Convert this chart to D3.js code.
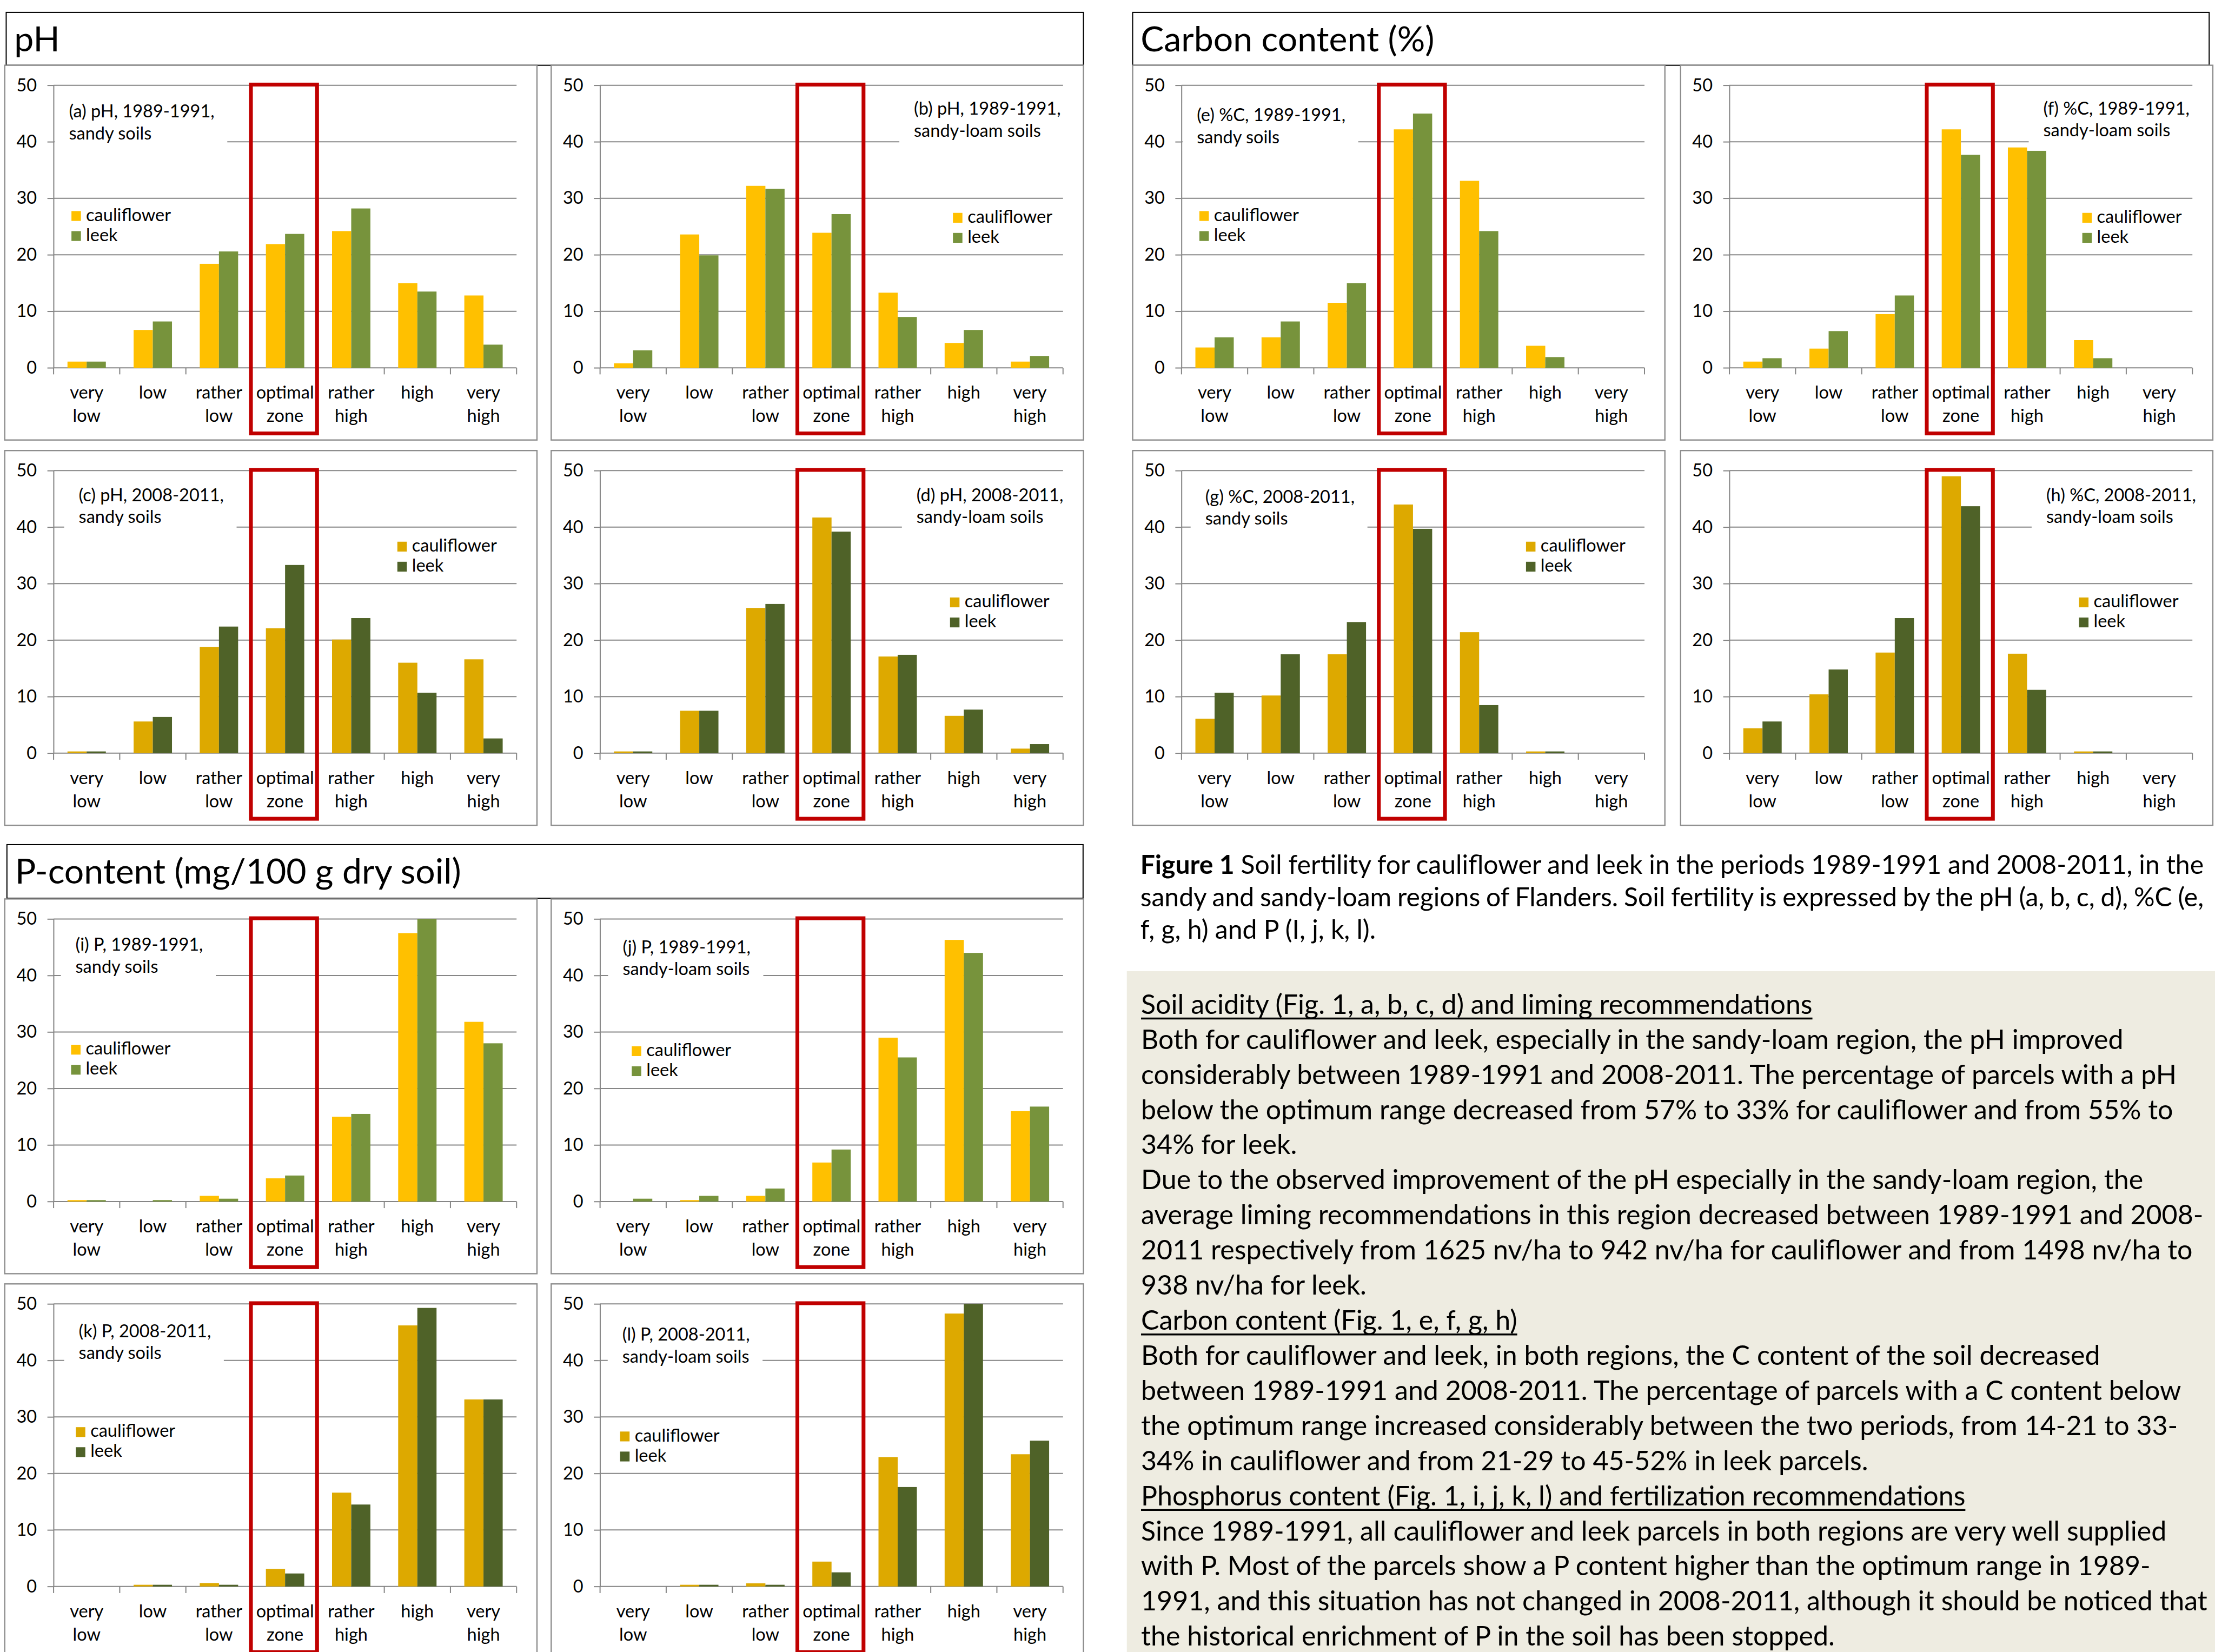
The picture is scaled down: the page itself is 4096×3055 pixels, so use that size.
<!DOCTYPE html>
<html><head><meta charset="utf-8">
<script src="https://cdn.jsdelivr.net/npm/d3@7"></script>
<style>html,body{margin:0;padding:0;background:#fff;overflow:hidden} svg{display:block}</style>
</head><body>
<script>
// ---------------- DATA ----------------
const categories = ["very low","low","rather low","optimal zone","rather high","high","very high"];
const categoryLines = [["very","low"],["low"],["rather","low"],["optimal","zone"],["rather","high"],["high"],["very","high"]];
const yTicks = [0,10,20,30,40,50];
const seriesNames = ["cauliflower","leek"];

// pH
const a_cauliflower = [1.1, 6.7, 18.4, 21.9, 24.2, 15.0, 12.8];
const a_leek        = [1.1, 8.2, 20.6, 23.7, 28.2, 13.5, 4.1];
const b_cauliflower = [0.8, 23.6, 32.2, 23.9, 13.3, 4.4, 1.1];
const b_leek        = [3.1, 19.9, 31.7, 27.2, 9.0, 6.7, 2.1];
const c_cauliflower = [0.3, 5.6, 18.8, 22.1, 20.1, 16.0, 16.6];
const c_leek        = [0.3, 6.4, 22.4, 33.3, 23.9, 10.7, 2.6];
const d_cauliflower = [0.3, 7.5, 25.7, 41.7, 17.1, 6.6, 0.8];
const d_leek        = [0.3, 7.5, 26.4, 39.2, 17.4, 7.7, 1.6];
// %C
const e_cauliflower = [3.6, 5.4, 11.5, 42.2, 33.1, 3.9, 0];
const e_leek        = [5.4, 8.2, 15.0, 45.0, 24.2, 1.9, 0];
const f_cauliflower = [1.1, 3.4, 9.5, 42.2, 39.0, 4.9, 0];
const f_leek        = [1.7, 6.5, 12.8, 37.7, 38.4, 1.7, 0];
const g_cauliflower = [6.1, 10.2, 17.5, 44.0, 21.4, 0.3, 0];
const g_leek        = [10.7, 17.5, 23.2, 39.7, 8.5, 0.3, 0];
const h_cauliflower = [4.4, 10.4, 17.8, 49.0, 17.6, 0.3, 0];
const h_leek        = [5.6, 14.8, 23.9, 43.7, 11.2, 0.3, 0];
// P
const i_cauliflower = [0.25, 0, 1.0, 4.1, 15.0, 47.5, 31.8];
const i_leek        = [0.25, 0.25, 0.5, 4.6, 15.5, 50, 28.0];
const j_cauliflower = [0, 0.25, 1.0, 6.9, 29.0, 46.3, 16.0];
const j_leek        = [0.5, 1.0, 2.3, 9.2, 25.5, 44.0, 16.8];
const k_cauliflower = [0, 0.3, 0.6, 3.1, 16.6, 46.2, 33.1];
const k_leek        = [0, 0.3, 0.3, 2.3, 14.5, 49.3, 33.1];
const l_cauliflower = [0, 0.3, 0.55, 4.4, 22.9, 48.3, 23.4];
const l_leek        = [0, 0.3, 0.3, 2.5, 17.6, 50, 25.8];

const titleA = ["(a) pH, 1989-1991,", "sandy soils"];
const titleB = ["(b) pH, 1989-1991,", "sandy-loam soils"];
const titleC = ["(c) pH, 2008-2011,", "sandy soils"];
const titleD = ["(d) pH, 2008-2011,", "sandy-loam soils"];
const titleE = ["(e) %C, 1989-1991,", "sandy soils"];
const titleF = ["(f) %C, 1989-1991,", "sandy-loam soils"];
const titleG = ["(g) %C, 2008-2011,", "sandy soils"];
const titleH = ["(h) %C, 2008-2011,", "sandy-loam soils"];
const titleI = ["(i) P, 1989-1991,", "sandy soils"];
const titleJ = ["(j) P, 1989-1991,", "sandy-loam soils"];
const titleK = ["(k) P, 2008-2011,", "sandy soils"];
const titleL = ["(l) P, 2008-2011,", "sandy-loam soils"];

const headerPH = "pH";
const headerC = "Carbon content (%)";
const headerP = "P-content (mg/100 g dry soil)";

const captionBold = "Figure 1";
const captionLines = [
  " Soil fertility for cauliflower and leek in the periods 1989-1991 and 2008-2011, in the",
  "sandy and sandy-loam regions of Flanders. Soil fertility is expressed by the pH (a, b, c, d), %C (e,",
  "f, g, h) and P (I, j, k, l)."
];
const bodyLines = [
  ["Soil acidity (Fig. 1, a, b, c, d) and liming recommendations", true],
  ["Both for cauliflower and leek, especially in the sandy-loam region, the pH improved", false],
  ["considerably between 1989-1991 and 2008-2011. The percentage of parcels with a pH", false],
  ["below the optimum range decreased from 57% to 33% for cauliflower and from 55% to", false],
  ["34% for leek.", false],
  ["Due to the observed improvement of the pH especially in the sandy-loam region, the", false],
  ["average liming recommendations in this region decreased between 1989-1991 and 2008-", false],
  ["2011 respectively from 1625 nv/ha to 942 nv/ha for cauliflower and from 1498 nv/ha to", false],
  ["938 nv/ha for leek.", false],
  ["Carbon content (Fig. 1, e, f, g, h)", true],
  ["Both for cauliflower and leek, in both regions, the C content of the soil decreased", false],
  ["between 1989-1991 and 2008-2011. The percentage of parcels with a C content below", false],
  ["the optimum range increased considerably between the two periods, from 14-21 to 33-", false],
  ["34% in cauliflower and from 21-29 to 45-52% in leek parcels.", false],
  ["Phosphorus content (Fig. 1, i, j, k, l) and fertilization recommendations", true],
  ["Since 1989-1991, all cauliflower and leek parcels in both regions are very well supplied", false],
  ["with P. Most of the parcels show a P content higher than the optimum range in 1989-", false],
  ["1991, and this situation has not changed in 2008-2011, although it should be noticed that", false],
  ["the historical enrichment of P in the soil has been stopped.", false]
];

// ---------------- STYLE / LAYOUT ----------------
const W = 4096, H = 3055, REF_W = 6076;
const k = W / REF_W;
const FONT = "Lato, 'Open Sans', 'Liberation Sans', sans-serif";
const GRID = "#868686";
const colorsOld = {cauliflower: "#FFC000", leek: "#77933C"};
const colorsNew = {cauliflower: "#DDA900", leek: "#4F6228"};

const svg = d3.select("body").append("svg").attr("width", W).attr("height", H);
svg.append("rect").attr("width", W).attr("height", H).attr("fill", "#fff");
const root = svg.append("g").attr("transform", `scale(${k})`);

function measure(text, size, weight) {
  const t = root.append("text").attr("font-family", FONT).attr("font-size", size)
    .attr("font-weight", weight || "normal").text(text);
  const w = t.node().getComputedTextLength();
  t.remove();
  return w;
}
function fit(text, target, weight) { return 100 * target / measure(text, 100, weight); }

const chartFs = Math.min(50, fit("cauliflower", 233));
const headerFs = fit(headerP, 1224);
const bodyFs = fit(bodyLines[1][0], 2695);
const captionFs = fit(captionLines[2], 646);

// ---------------- HEADERS ----------------
const headers = [
  {label: headerPH, x: 17, y: 34, w: 2955, h: 145},
  {label: headerC, x: 3107, y: 34, w: 2953, h: 145},
  {label: headerP, x: 19, y: 2317, w: 2952, h: 147}
];
headers.forEach(hd => {
  root.append("rect").attr("x", hd.x).attr("y", hd.y).attr("width", hd.w).attr("height", hd.h)
    .attr("fill", "#fff").attr("stroke", "#000").attr("stroke-width", 3);
  root.append("text").attr("x", hd.x + 22).attr("y", hd.y + 107)
    .attr("font-family", FONT).attr("font-size", headerFs).attr("fill", "#000").text(hd.label);
});

// ---------------- PANELS ----------------
const colX = [13, 1512, 3107, 4610];
const rowY = [179, 1236, 2466, 3522];
const panels = [
  {title: titleA, cauliflower: a_cauliflower, leek: a_leek, colors: colorsOld, bx: colX[0], by: rowY[0], tdx: 42, tdy: 88, lx: 49, ly: 345},
  {title: titleB, cauliflower: b_cauliflower, leek: b_leek, colors: colorsOld, bx: colX[1], by: rowY[0], tdx: 861, tdy: 81, lx: 968, ly: 350},
  {title: titleC, cauliflower: c_cauliflower, leek: c_leek, colors: colorsNew, bx: colX[0], by: rowY[1], tdx: 69, tdy: 84, lx: 943, ly: 195},
  {title: titleD, cauliflower: d_cauliflower, leek: d_leek, colors: colorsNew, bx: colX[1], by: rowY[1], tdx: 868, tdy: 84, lx: 960, ly: 348},
  {title: titleE, cauliflower: e_cauliflower, leek: e_leek, colors: colorsOld, bx: colX[2], by: rowY[0], tdx: 42, tdy: 99, lx: 49, ly: 345},
  {title: titleF, cauliflower: f_cauliflower, leek: f_leek, colors: colorsOld, bx: colX[3], by: rowY[0], tdx: 861, tdy: 80, lx: 968, ly: 350},
  {title: titleG, cauliflower: g_cauliflower, leek: g_leek, colors: colorsNew, bx: colX[2], by: rowY[1], tdx: 65, tdy: 88, lx: 945, ly: 195},
  {title: titleH, cauliflower: h_cauliflower, leek: h_leek, colors: colorsNew, bx: colX[3], by: rowY[1], tdx: 869, tdy: 84, lx: 959, ly: 348},
  {title: titleI, cauliflower: i_cauliflower, leek: i_leek, colors: colorsOld, bx: colX[0], by: rowY[2], tdx: 60, tdy: 87, lx: 48, ly: 345},
  {title: titleJ, cauliflower: j_cauliflower, leek: j_leek, colors: colorsOld, bx: colX[1], by: rowY[2], tdx: 62, tdy: 94, lx: 87, ly: 349},
  {title: titleK, cauliflower: k_cauliflower, leek: k_leek, colors: colorsNew, bx: colX[0], by: rowY[3], tdx: 69, tdy: 91, lx: 61, ly: 338},
  {title: titleL, cauliflower: l_cauliflower, leek: l_leek, colors: colorsNew, bx: colX[1], by: rowY[3], tdx: 61, tdy: 101, lx: 55, ly: 350}
];

function drawPanel(p) {
  const g = root.append("g");
  const px = p.bx + 134, pr = p.bx + 1404, pt = p.by + 55, pb = p.by + 830;
  g.append("rect").attr("x", p.bx).attr("y", p.by).attr("width", 1460).attr("height", 1028)
    .attr("fill", "#fff").attr("stroke", "#8C8C8C").attr("stroke-width", 3.5);

  const x = d3.scaleBand().domain(categories).range([px, pr]).padding(0);
  const xs = d3.scaleBand().domain(seriesNames).range([0, x.bandwidth()]).paddingInner(0).paddingOuter(0.724);
  const y = d3.scaleLinear().domain([0, 50]).range([pb, pt]);

  // gridlines
  g.append("g").selectAll("line").data(yTicks).join("line")
    .attr("x1", px).attr("x2", pr).attr("y1", d => y(d)).attr("y2", d => y(d))
    .attr("stroke", GRID).attr("stroke-width", 3);

  // y axis
  const ya = g.append("g").attr("transform", `translate(${px},0)`)
    .call(d3.axisLeft(y).tickValues(yTicks).tickSize(17).tickSizeOuter(0).tickPadding(29));
  ya.select(".domain").attr("stroke", GRID).attr("stroke-width", 3);
  ya.selectAll(".tick line").attr("stroke", GRID).attr("stroke-width", 3);
  ya.selectAll(".tick text").attr("font-family", FONT).attr("font-size", chartFs).attr("fill", "#000");

  // x ticks at category boundaries
  const bounds = categories.map(c => x(c)).concat([pr]);
  g.append("g").selectAll("line").data(bounds).join("line")
    .attr("x1", d => d).attr("x2", d => d).attr("y1", pb).attr("y2", pb + 18)
    .attr("stroke", GRID).attr("stroke-width", 3);

  // category labels
  categories.forEach((c, i) => {
    const t = g.append("text").attr("font-family", FONT).attr("font-size", chartFs)
      .attr("text-anchor", "middle").attr("fill", "#000");
    categoryLines[i].forEach((ln, j) => {
      t.append("tspan").attr("x", x(c) + x.bandwidth() / 2).attr("y", pb + 85 + j * 63).text(ln);
    });
  });

  // title with white box
  const tx = px + p.tdx, ty1 = pt + p.tdy, ty2 = ty1 + 60;
  const tw = Math.max(measure(p.title[0], chartFs), measure(p.title[1], chartFs));
  g.append("rect").attr("x", Math.max(tx - 40, px + 3)).attr("y", ty1 - 50)
    .attr("width", tx + tw + 35 - Math.max(tx - 40, px + 3)).attr("height", ty2 + 22 - (ty1 - 50))
    .attr("fill", "#fff");
  const tt = g.append("text").attr("font-family", FONT).attr("font-size", chartFs).attr("fill", "#000");
  tt.append("tspan").attr("x", tx).attr("y", ty1).text(p.title[0]);
  tt.append("tspan").attr("x", tx).attr("y", ty2).text(p.title[1]);

  // bars
  seriesNames.forEach(s => {
    const vals = p[s];
    g.append("g").selectAll("rect").data(categories.map((c, i) => ({c, v: vals[i]})).filter(d => d.v > 0))
      .join("rect")
      .attr("x", d => x(d.c) + xs(s)).attr("width", xs.bandwidth())
      .attr("y", d => y(d.v)).attr("height", d => pb - y(d.v))
      .attr("fill", p.colors[s]);
  });

  // legend
  seriesNames.forEach((s, j) => {
    const sx = px + p.lx, sy = pt + p.ly + j * 55;
    g.append("rect").attr("x", sx).attr("y", sy).attr("width", 26).attr("height", 27).attr("fill", p.colors[s]);
    g.append("text").attr("x", sx + 40).attr("y", sy + 27).attr("font-family", FONT)
      .attr("font-size", chartFs).attr("fill", "#000").text(s);
  });

  // optimal zone red box
  const ox = x(categories[3]);
  g.append("rect").attr("x", ox - 3).attr("y", pt - 2).attr("width", x.bandwidth())
    .attr("height", (pb + 180) - (pt - 2)).attr("fill", "none")
    .attr("stroke", "#C00000").attr("stroke-width", 10.5);
}
panels.forEach(drawPanel);

// ---------------- CAPTION ----------------
const capX = 3128, capRight = 6045, capY0 = 2397, capStep = 89;
captionLines.forEach((ln, i) => {
  const t = root.append("text").attr("x", capX).attr("y", capY0 + i * capStep)
    .attr("font-family", FONT).attr("font-size", captionFs).attr("fill", "#000");
  if (i === 0) {
    t.append("tspan").attr("font-weight", "bold").text(captionBold);
    t.append("tspan").text(ln);
  } else {
    t.text(ln);
  }
  if (i < 2) {
    const natural = t.node().getComputedTextLength();
    const full = (i === 0 ? captionBold : "") + ln;
    const spaces = (full.match(/ /g) || []).length;
    const ws = (capRight - capX - natural) / spaces;
    t.style("word-spacing", ws + "px");
  }
});

// ---------------- TEXT BOX ----------------
root.append("rect").attr("x", 3091).attr("y", 2664).attr("width", 6076 - 3091).attr("height", 4532 - 2664)
  .attr("fill", "#EEECE1");
const bodyX = 3130, bodyY0 = 2781, bodyStep = 96.3;
bodyLines.forEach((ln, i) => {
  const yy = bodyY0 + i * bodyStep;
  const t = root.append("text").attr("x", bodyX).attr("y", yy)
    .attr("font-family", FONT).attr("font-size", bodyFs).attr("fill", "#000").text(ln[0]);
  if (ln[1]) {
    const w = t.node().getComputedTextLength();
    root.append("line").attr("x1", bodyX).attr("x2", bodyX + w).attr("y1", yy + 13).attr("y2", yy + 13)
      .attr("stroke", "#000").attr("stroke-width", 5);
  }
});
</script>
</body></html>
